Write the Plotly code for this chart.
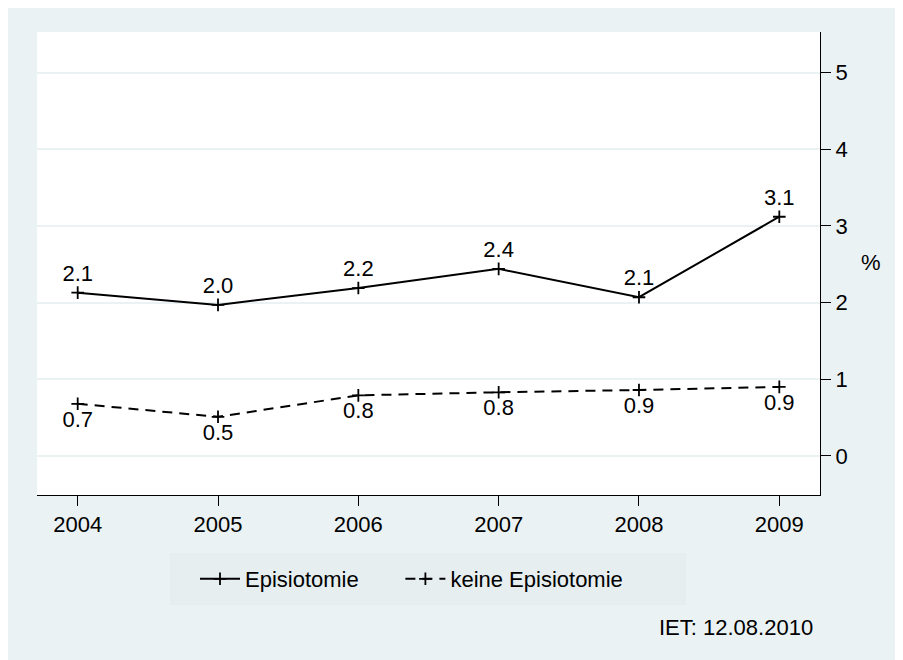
import plotly.graph_objects as go

years = [2004, 2005, 2006, 2007, 2008, 2009]
epis = [2.13, 1.97, 2.19, 2.44, 2.07, 3.12]
keine = [0.68, 0.51, 0.79, 0.83, 0.86, 0.90]
epis_lbl = ['2.1', '2.0', '2.2', '2.4', '2.1', '3.1']
keine_lbl = ['0.7', '0.5', '0.8', '0.8', '0.9', '0.9']
yticks = [0, 1, 2, 3, 4, 5]

bg = '#EAF2F3'
fnt = dict(family='Liberation Sans, Arial, sans-serif', size=22, color='black')

# plot area in page pixels (page has an 8px body margin)
L, T, R, B = 37, 32, 820, 495
W, H = 895, 652
pw, ph = R - L, B - T

def px(x):
    return (x - L) / pw

def py(y):
    return (B - y) / ph

fig = go.Figure()
fig.add_trace(go.Scatter(x=years, y=epis, name='Episiotomie' + '\u00a0' * 6, mode='lines+markers+text',
                         text=epis_lbl, textposition='top center', textfont=fnt,
                         line=dict(color='black', width=2),
                         marker=dict(symbol='cross-thin', size=9, line=dict(color='black', width=1.8))))
fig.add_trace(go.Scatter(x=years, y=keine, name='keine Episiotomie', mode='lines+markers+text',
                         text=keine_lbl, textposition='bottom center', textfont=fnt,
                         line=dict(color='black', width=2, dash='10px,7px'),
                         marker=dict(symbol='cross-thin', size=9, line=dict(color='black', width=1.8))))

fig.update_layout(
    width=W, height=H,
    paper_bgcolor=bg, plot_bgcolor='white',
    margin=dict(l=L - 8, r=W - (R - 8), t=T - 8, b=H - (B - 8)),
    font=fnt,
    showlegend=True,
    legend=dict(orientation='h', x=px(195), xanchor='left', y=py(579), yanchor='middle',
                bgcolor='rgba(0,0,0,0)', font=fnt, itemwidth=40, tracegroupgap=0),
    xaxis=dict(range=[2003.71, 2009.29], tickvals=years, ticks='outside', ticklen=10,
               tickcolor='black', showgrid=False, showline=True, linecolor='black',
               linewidth=1, zeroline=False, tickfont=fnt),
    yaxis=dict(range=[-0.51, 5.53], tickvals=yticks, side='right', ticks='outside',
               ticklen=10, tickcolor='black', showgrid=True, gridcolor=bg, gridwidth=1.5,
               showline=True, linecolor='black', linewidth=1, zeroline=False, tickfont=fnt),
)

# legend box
fig.add_shape(type='rect', xref='paper', yref='paper', x0=px(170), x1=px(686),
              y0=py(605), y1=py(553), fillcolor='#E6EEF0', line_width=0, layer='below')
fig.add_annotation(text='%', xref='paper', yref='paper', x=px(871), y=py(262), showarrow=False,
                   xanchor='center', yanchor='middle', font=fnt)
fig.add_annotation(text='IET: 12.08.2010', xref='paper', yref='paper', x=px(815), y=py(627),
                   xanchor='right', yanchor='middle', showarrow=False, font=fnt)

fig.write_html("out.html")
